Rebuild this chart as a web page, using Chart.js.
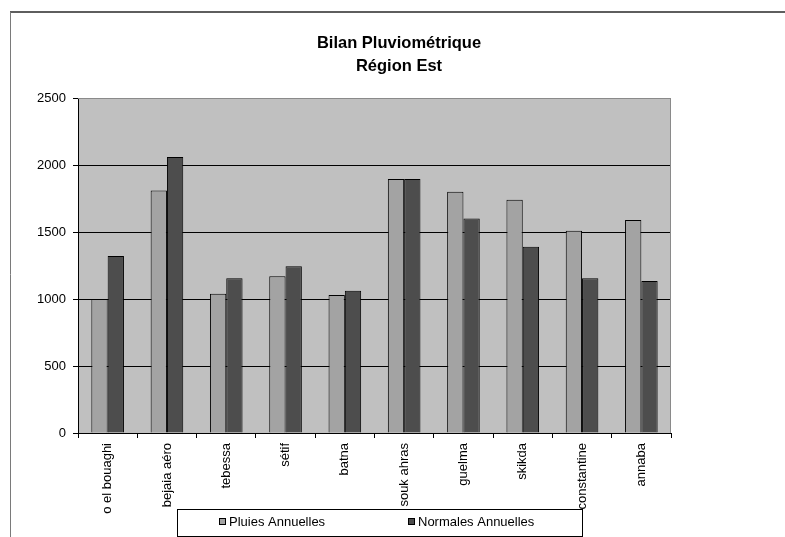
<!DOCTYPE html>
<html>
<head>
<meta charset="utf-8">
<script src="https://cdn.jsdelivr.net/npm/chart.js@4/dist/chart.umd.min.js"></script>
<style>
  html, body { margin: 0; padding: 0; background: #ffffff; }
  #wrap { position: relative; width: 785px; height: 537px; }
</style>
</head>
<body>
<div id="wrap"><canvas id="c" width="785" height="537"></canvas></div>
<script>
// Stations of the eastern region
const stations = ["o el bouaghi", "bejaia aéro", "tebessa", "sétif", "batna",
                  "souk ahras", "guelma", "skikda", "constantine", "annaba"];
// Annual rainfall (mm)
const pluiesAnnuelles   = [1000, 1810, 1040, 1170, 1030, 1895, 1800, 1740, 1510, 1590];
// Annual normals (mm)
const normalesAnnuelles = [1320, 2060, 1155, 1245, 1062, 1895, 1600, 1390, 1155, 1135];
// Y axis range
const yTicks = [0, 500, 1000, 1500, 2000, 2500];

const FONT = "'Liberation Sans', Arial, sans-serif";

// Grey plot background, outer frame, plot border and boxed legend
const decor = {
  id: 'decor',
  beforeDraw(chart) {
    const { ctx, chartArea: a } = chart;
    ctx.save();
    ctx.fillStyle = '#c0c0c0';
    ctx.fillRect(a.left, a.top, a.right - a.left, a.bottom - a.top);
    // outer frame
    ctx.strokeStyle = '#5e5e5e';
    ctx.lineWidth = 2;
    ctx.beginPath();
    ctx.moveTo(10, 12); ctx.lineTo(785, 12);
    ctx.stroke();
    ctx.strokeStyle = '#7a7a7a';
    ctx.lineWidth = 1;
    ctx.beginPath();
    ctx.moveTo(10.5, 12); ctx.lineTo(10.5, 537);
    ctx.stroke();
    ctx.restore();
  },
  afterDatasetsDraw(chart) {
    const { ctx, chartArea: a } = chart;
    ctx.save();
    ctx.strokeStyle = '#8a8a8a';
    ctx.lineWidth = 1;
    ctx.beginPath();
    ctx.moveTo(a.left, a.top + 0.5); ctx.lineTo(a.right - 0.5, a.top + 0.5);
    ctx.lineTo(a.right - 0.5, a.bottom);
    ctx.stroke();
    ctx.restore();
  },
  afterDraw(chart) {
    const { ctx } = chart;
    ctx.save();
    // legend box
    ctx.fillStyle = '#ffffff';
    ctx.fillRect(177, 509, 406, 28);
    ctx.strokeStyle = '#000000';
    ctx.lineWidth = 1;
    ctx.strokeRect(177.5, 509.5, 405, 27);
    ctx.font = '13px ' + FONT;
    ctx.textBaseline = 'middle';
    const items = [
      { x: 219, ds: chart.data.datasets[0] },
      { x: 408, ds: chart.data.datasets[1] }
    ];
    items.forEach(it => {
      ctx.fillStyle = it.ds.backgroundColor;
      ctx.fillRect(it.x, 518, 6, 6);
      ctx.strokeStyle = '#000000';
      ctx.strokeRect(it.x + 0.5, 518.5, 6, 6);
      ctx.fillStyle = '#000000';
      ctx.fillText(it.ds.label, it.x + 10, 522);
    });
    ctx.restore();
  }
};

new Chart(document.getElementById('c'), {
  type: 'bar',
  data: {
    labels: stations,
    datasets: [
      { label: 'Pluies Annuelles', data: pluiesAnnuelles,
        backgroundColor: '#a3a3a3', borderColor: '#000000', borderWidth: 1 },
      { label: 'Normales Annuelles', data: normalesAnnuelles,
        backgroundColor: '#4d4d4d', borderColor: '#000000', borderWidth: 1 }
    ]
  },
  options: {
    responsive: false,
    animation: false,
    layout: { padding: { left: 0, right: 114, top: 98, bottom: 0 } },
    datasets: { bar: { categoryPercentage: 0.55, barPercentage: 1.0 } },
    plugins: {
      legend: { display: false },
      tooltip: { enabled: false },
      title: { display: false }
    },
    scales: {
      x: {
        offset: true,
        grid: { display: true, offset: true, drawOnChartArea: false,
                color: '#000000', tickLength: 5, tickColor: '#000000' },
        border: { display: true, color: '#000000' },
        ticks: { autoSkip: false, minRotation: 90, maxRotation: 90, padding: 5,
                 color: '#000000', font: { family: FONT, size: 13 } },
        afterFit(s) { s.height = 104; }
      },
      y: {
        min: 0, max: 2500,
        afterBuildTicks(s) { s.ticks = yTicks.map(v => ({ value: v })); },
        grid: {
          color: ctx => (ctx.tick && ctx.tick.value === 2500) ? '#8a8a8a' : '#000000',
          tickColor: '#000000', tickLength: 5
        },
        border: { display: true, color: '#000000' },
        ticks: { padding: 7, color: '#000000', font: { family: FONT, size: 13 },
                 callback: v => String(v) },
        afterFit(s) { s.width = 78; }
      }
    }
  },
  plugins: [decor, {
    id: 'titleText',
    afterDraw(chart) {
      const { ctx } = chart;
      ctx.save();
      ctx.fillStyle = '#000000';
      ctx.font = 'bold 16.5px ' + FONT;
      ctx.textAlign = 'center';
      ctx.textBaseline = 'middle';
      ctx.fillText('Bilan Pluviométrique', 399, 43);
      ctx.fillText('Région Est', 399, 66);
      ctx.restore();
    }
  }]
});
</script>
</body>
</html>
